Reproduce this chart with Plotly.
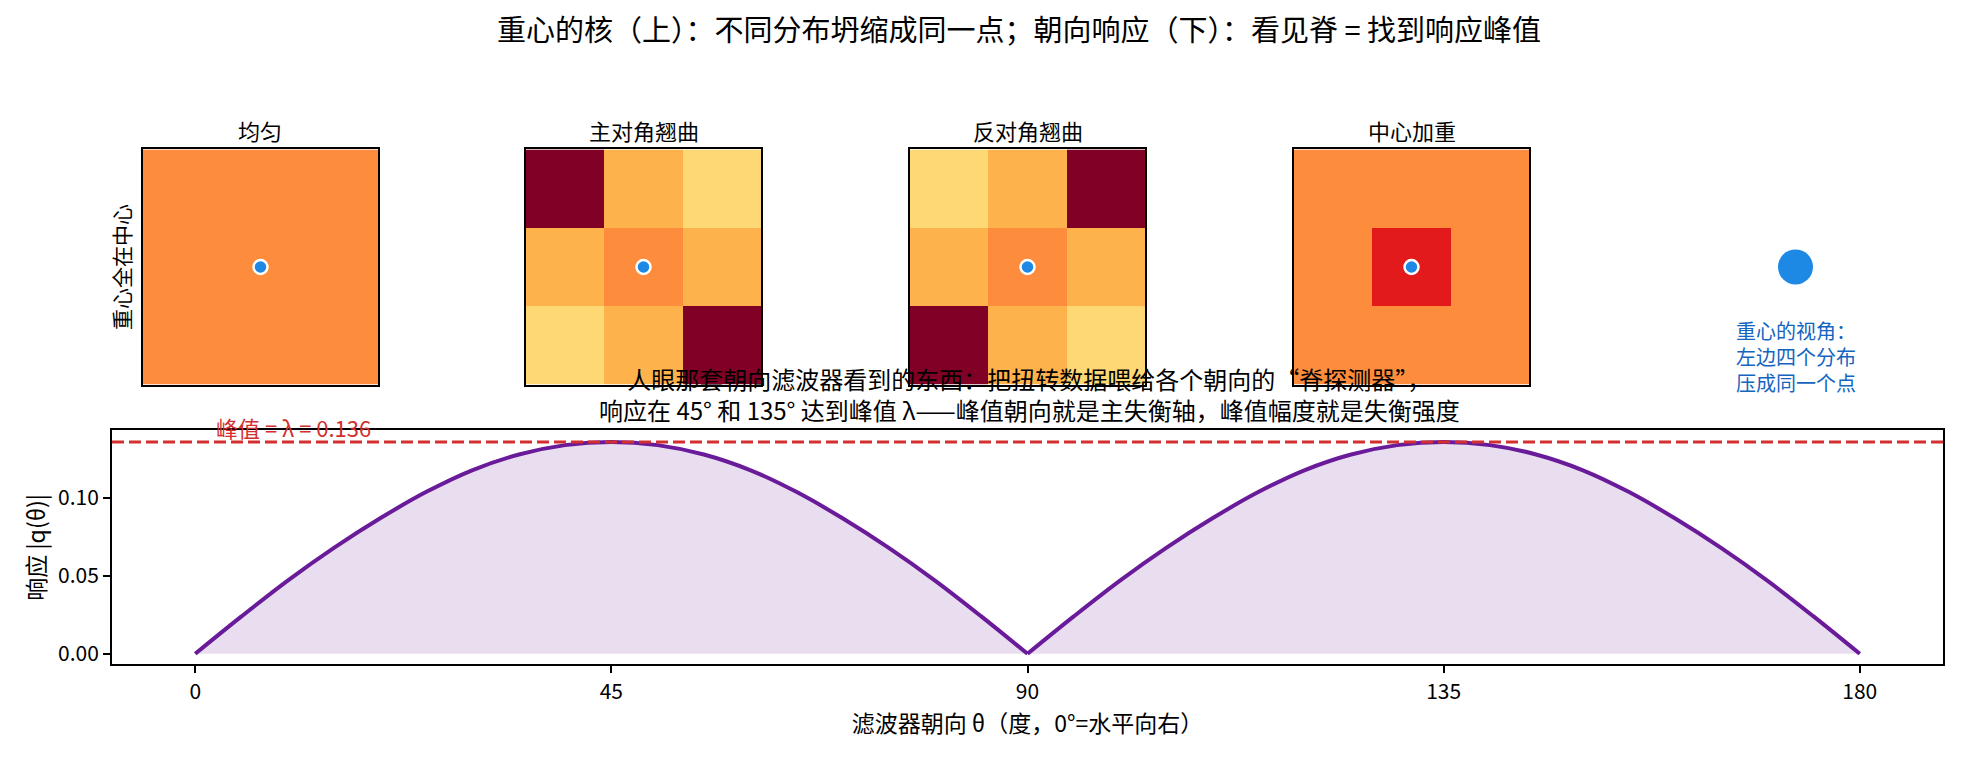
import plotly.graph_objects as go

# --- data --------------------------------------------------------------------
KERNEL_NAMES = ['均匀', '主对角翘曲', '反对角翘曲', '中心加重']

# 3x3 weight kernels (fraction of total mass per cell), row 0 = top row
KERNEL_UNIFORM = [[0.111, 0.111, 0.111],
                  [0.111, 0.111, 0.111],
                  [0.111, 0.111, 0.111]]
KERNEL_MAIN_DIAG = [[0.222, 0.083, 0.056],
                    [0.083, 0.111, 0.083],
                    [0.056, 0.083, 0.222]]
KERNEL_ANTI_DIAG = [[0.056, 0.083, 0.222],
                    [0.083, 0.111, 0.083],
                    [0.222, 0.083, 0.056]]
KERNEL_CENTER = [[0.111, 0.111, 0.111],
                 [0.111, 0.167, 0.111],
                 [0.111, 0.111, 0.111]]
KERNELS = [KERNEL_UNIFORM, KERNEL_MAIN_DIAG, KERNEL_ANTI_DIAG, KERNEL_CENTER]
KERNEL_VMAX = 0.222

# centroid of each kernel (column, row)
CENTROID_X = [1, 1, 1, 1]
CENTROID_Y = [1, 1, 1, 1]

# orientation response |q(theta)|, two lobes meeting at 90 deg
THETA = [0, 5, 10, 15, 20, 25, 30, 35, 40, 45, 50, 55, 60, 65, 70, 75, 80, 85, 90,
         95, 100, 105, 110, 115, 120, 125, 130, 135, 140, 145, 150, 155, 160, 165,
         170, 175, 180]
RESPONSE = [0.000, 0.024, 0.047, 0.068, 0.087, 0.104, 0.118, 0.128, 0.134, 0.136,
            0.134, 0.128, 0.118, 0.104, 0.087, 0.068, 0.047, 0.024, 0.000,
            0.024, 0.047, 0.068, 0.087, 0.104, 0.118, 0.128, 0.134, 0.136,
            0.134, 0.128, 0.118, 0.104, 0.087, 0.068, 0.047, 0.024, 0.000]
PEAK = 0.136
THETA_TICKS = [0, 45, 90, 135, 180]
RESPONSE_TICKS = [0.0, 0.05, 0.10]

YLORRD = ['#ffffcc', '#ffeda0', '#fed976', '#feb24c', '#fd8d3c',
          '#fc4e2a', '#e31a1c', '#bd0026', '#800026']

FONT = 'Noto Sans CJK SC'
W, H = 1962, 757
PAGE_PAD = 8  # the page puts the figure 8px in from the corner


def fx(px):
    return (px - PAGE_PAD) / W


def fy(px):
    return 1 - (px - PAGE_PAD) / H


colorscale = [[i / (len(YLORRD) - 1), c] for i, c in enumerate(YLORRD)]

fig = go.Figure()

# panel geometry (pixels)
panel_left = [143, 526, 910, 1294, 1678]
panel_w = 235
panel_top, panel_bottom = 150, 386

for i, z in enumerate(KERNELS):
    n = i + 1
    ax = '' if n == 1 else str(n)
    fig.add_trace(go.Heatmap(
        z=z, x=[0, 1, 2], y=[0, 1, 2],
        colorscale=colorscale, zmin=0, zmax=KERNEL_VMAX,
        showscale=False, xaxis='x' + ax, yaxis='y' + ax,
        hoverinfo='skip',
    ))
    fig.add_trace(go.Scatter(
        x=[CENTROID_X[i]], y=[CENTROID_Y[i]], mode='markers',
        marker=dict(size=14, color='#1E88E5', line=dict(color='white', width=2.5)),
        showlegend=False, xaxis='x' + ax, yaxis='y' + ax,
    ))
    frame = dict(showline=True, mirror=True, linecolor='black', linewidth=2,
                 showticklabels=False, ticks='', showgrid=False, zeroline=False)
    fig.update_layout(**{
        'xaxis' + ax: dict(domain=[fx(panel_left[i]), fx(panel_left[i] + panel_w)],
                           range=[-0.5, 2.5], anchor='y' + ax, **frame),
        'yaxis' + ax: dict(domain=[fy(panel_bottom), fy(panel_top)],
                           range=[2.5, -0.5], anchor='x' + ax, **frame),
    })
    fig.add_annotation(
        x=fx(panel_left[i] + panel_w / 2), y=fy(130), xref='paper', yref='paper',
        text=KERNEL_NAMES[i], showarrow=False, font=dict(size=22, color='black'),
        xanchor='center', yanchor='middle',
    )

# fifth panel: the centroid's point of view
fig.add_trace(go.Scatter(
    x=[0], y=[0], mode='markers',
    marker=dict(size=35, color='#1E88E5'),
    showlegend=False, xaxis='x5', yaxis='y5',
))
fig.update_layout(
    xaxis5=dict(domain=[fx(panel_left[4]), fx(panel_left[4] + panel_w)],
                range=[-1, 1], anchor='y5', visible=False),
    yaxis5=dict(domain=[fy(panel_bottom), fy(panel_top)],
                range=[-1, 1], anchor='x5', visible=False),
)
fig.add_annotation(
    x=0, y=-0.40, xref='x5', yref='y5',
    text='重心的视角：<br>左边四个分布<br>压成同一个点',
    showarrow=False, align='left', xanchor='center', yanchor='top',
    font=dict(size=20, color='#1565C0'),
)

# bottom: orientation response, one spline per lobe so the cusp at 90 stays sharp
half = THETA.index(90)
for sl in (slice(0, half + 1), slice(half, None)):
    fig.add_trace(go.Scatter(
        x=THETA[sl], y=RESPONSE[sl], mode='lines',
        fill='tozeroy', fillcolor='rgba(106,27,154,0.15)',
        line=dict(color='#6A1B9A', width=4, shape='spline', smoothing=1),
        showlegend=False, xaxis='x6', yaxis='y6',
    ))
fig.add_shape(
    type='line', xref='x6 domain', yref='y6',
    x0=0, x1=1, y0=PEAK, y1=PEAK,
    line=dict(color='#D32F2F', width=3, dash='12px,5px'),
)
fig.add_annotation(
    x=2, y=PEAK, xref='x6', yref='y6',
    text=f'峰值 = λ = {PEAK:.3f}', showarrow=False,
    xanchor='left', yanchor='bottom', yshift=-3,
    font=dict(size=22, color='#D32F2F'),
)

fig.update_layout(
    xaxis6=dict(
        domain=[fx(112), fx(1943)], anchor='y6',
        range=[-9, 189], tickvals=THETA_TICKS,
        ticks='outside', ticklen=7, tickwidth=1.5, tickcolor='black',
        showline=True, mirror=True, linecolor='black', linewidth=2,
        showgrid=False, zeroline=False,
        tickfont=dict(size=21, color='black'),
        title=dict(text='滤波器朝向 θ（度，0°=水平向右）',
                   font=dict(size=23, color='black'), standoff=6),
    ),
    yaxis6=dict(
        domain=[fy(667), fy(432)], anchor='x6',
        range=[-0.0068, 0.1435], tickvals=RESPONSE_TICKS, tickformat='.2f',
        ticks='outside', ticklen=7, tickwidth=1.5, tickcolor='black',
        showline=True, mirror=True, linecolor='black', linewidth=2,
        showgrid=False, zeroline=False,
        tickfont=dict(size=21, color='black'),
        title=dict(text='响应 |q(θ)|', font=dict(size=23, color='black'), standoff=6),
    ),
)

# texts
fig.add_annotation(
    x=fx(121), y=fy(268), xref='paper', yref='paper',
    text='重心全在中心', textangle=-90, showarrow=False,
    font=dict(size=21, color='black'), xanchor='center', yanchor='middle',
)
fig.add_annotation(
    x=fx(1029), y=fy(431), xref='paper', yref='paper',
    text='人眼那套朝向滤波器看到的东西：把扭转数据喂给各个朝向的“脊探测器”，<br>'
         '响应在 45° 和 135° 达到峰值 λ——峰值朝向就是主失衡轴，峰值幅度就是失衡强度',
    showarrow=False, align='center', xanchor='center', yanchor='bottom',
    font=dict(size=24, color='black'),
)

fig.update_layout(
    width=W, height=H,
    margin=dict(l=0, r=0, t=0, b=0),
    paper_bgcolor='white', plot_bgcolor='white',
    font=dict(family=FONT, color='black'),
    title=dict(
        text='重心的核（上）：不同分布坍缩成同一点；朝向响应（下）：看见脊 = 找到响应峰值',
        x=fx(1019), xanchor='center', y=fy(31), yanchor='middle',
        font=dict(size=29, color='black'),
    ),
)

fig.write_html('out.html')
